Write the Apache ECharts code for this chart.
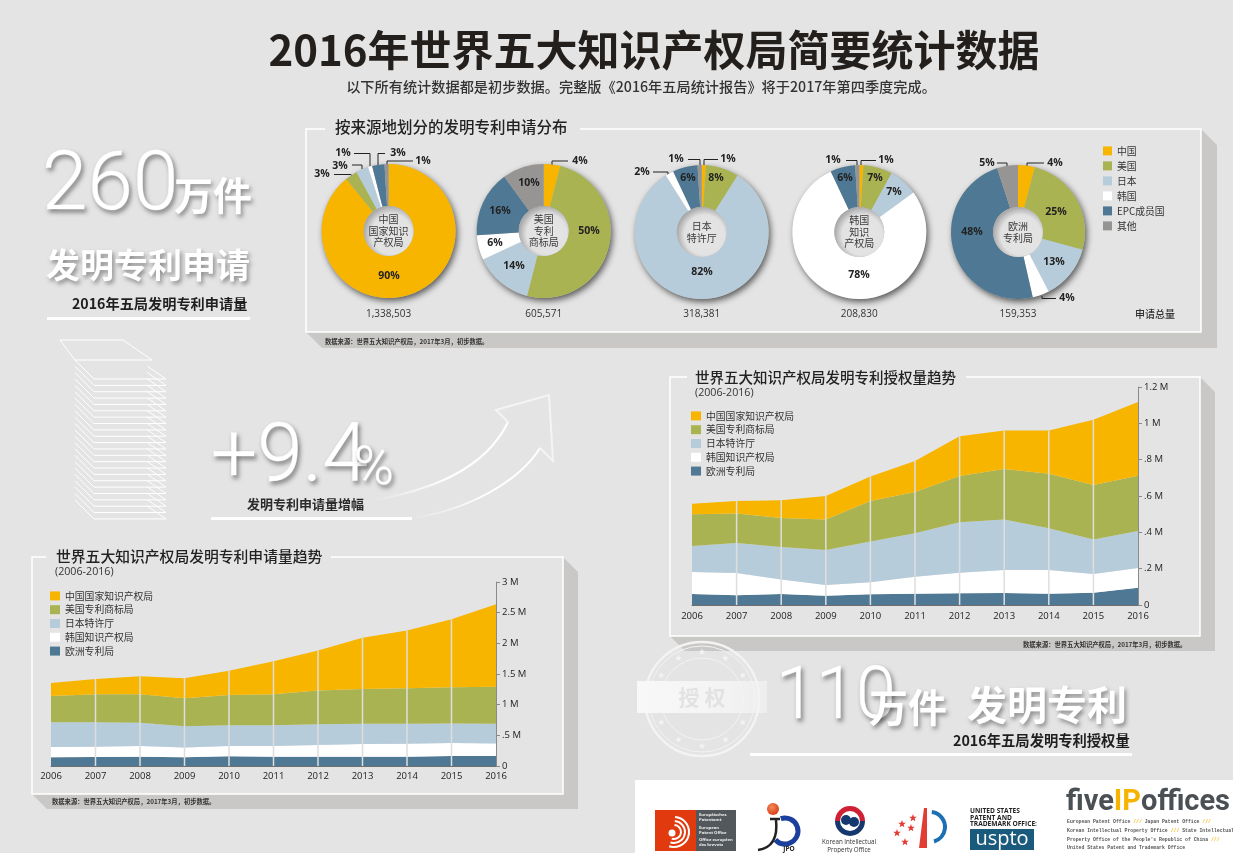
<!DOCTYPE html>
<html>
<head>
<meta charset="utf-8">
<title>2016年世界五大知识产权局简要统计数据</title>
<script src="https://cdn.jsdelivr.net/npm/echarts@6/dist/echarts.min.js"></script>
<style>
html, body { margin: 0; padding: 0; background: #e4e4e4; }
#main { width: 1233px; height: 853px; }
</style>
</head>
<body>
<div id="main"></div>
<script>
// ---- data ----
var years = ['2006', '2007', '2008', '2009', '2010', '2011', '2012', '2013', '2014', '2015', '2016'];
var offices = ['中国国家知识产权局', '美国专利商标局', '日本特许厅', '韩国知识产权局', '欧洲专利局'];
var sources = ['中国', '美国', '日本', '韩国', 'EPC成员国', '其他'];

// 发明专利授权量 (thousands)
var grantChina = [59, 70, 97, 130, 135, 171, 219, 211, 237, 359, 406];
var grantUS = [174, 162, 160, 167, 223, 227, 255, 279, 301, 301, 305];
var grantJapan = [143, 165, 178, 193, 225, 239, 277, 277, 229, 189, 203];
var grantKorea = [121, 123, 80, 59, 66, 94, 114, 127, 131, 103, 109];
var grantEurope = [61, 53, 61, 51, 59, 62, 64, 66, 62, 68, 95];
var grantTicks = ['0', '.2 M', '.4 M', '.6 M', '.8 M', '1 M', '1.2 M'];

// 发明专利申请量 (thousands)
var applyChina = [211, 249, 292, 325, 395, 536, 655, 834, 942, 1110, 1343];
var applyUS = [428, 455, 466, 455, 493, 504, 547, 568, 579, 590, 606];
var applyJapan = [406, 401, 379, 347, 341, 341, 341, 331, 325, 319, 320];
var applyKorea = [168, 168, 173, 162, 168, 173, 189, 205, 211, 212, 206];
var applyEurope = [141, 146, 152, 141, 157, 152, 152, 152, 152, 162, 162];
var applyTicks = ['0', '.5 M', '1 M', '1.5 M', '2 M', '2.5 M', '3 M'];

// share by origin, same order as sources
var shareCNIPA = [90, 3, 3, 1, 3, 1];
var shareUSPTO = [4, 50, 14, 6, 16, 10];
var shareJPO = [1, 8, 82, 2, 6, 1];
var shareKIPO = [1, 7, 7, 78, 6, 1];
var shareEPO = [4, 25, 13, 4, 48, 5];
var pieTotals = ['1,338,503', '605,571', '318,381', '208,830', '159,353'];
var pieNames = [['中国', '国家知识', '产权局'], ['美国', '专利', '商标局'], ['日本', '特许厅'], ['韩国', '知识', '产权局'], ['欧洲', '专利局']];

// ---- look ----
var colors = ['#f8b500', '#aab351', '#b7ccda', '#ffffff', '#4e7893', '#969594'];
var cjk = '"Noto Sans CJK SC"';
var latin = '"Open Sans", "Noto Sans CJK SC"';
var thin = 'Roboto, "Open Sans"';
var dark = '#2b2b2b';
var sourceNote = '数据来源：世界五大知识产权局，2017年3月，初步数据。';

var pieCenters = [[388.6, 231], [543.7, 231], [701.7, 232], [859.3, 232], [1018, 232]];
var pieRadius = 67;
var holeRadius = 25;

// where each percentage sits in the page, keyed by pie then slice; third item is the leader line
var labelSpots = {
    0: {
        0: [389, 276],
        1: [322, 174, [[334, 174.5], [351, 174.5], [353, 177]]],
        2: [340, 166, [[352, 165], [362, 165], [362, 169]]],
        3: [343, 153, [[354, 153.5], [370, 153.5], [370, 166]]],
        4: [398, 153, [[385, 153.5], [378, 153.5], [378, 165]]],
        5: [423, 161, [[413, 161], [387, 161], [387, 165]]]
    },
    1: {
        0: [580, 161, [[568, 161], [552, 161], [552, 165]]],
        1: [589, 231],
        2: [514, 266],
        3: [495, 243],
        4: [500, 211],
        5: [529, 183]
    },
    2: {
        0: [728, 159, [[718, 159.5], [704, 159.5], [704, 165]]],
        1: [716, 178],
        2: [702, 272],
        3: [642, 172, [[653, 172], [668, 172], [668, 175]]],
        4: [688, 178],
        5: [676, 159, [[688, 159.5], [700, 159.5], [700, 165]]]
    },
    3: {
        0: [886, 160, [[876, 160.5], [861, 160.5], [861, 165]]],
        1: [875, 178],
        2: [894, 192],
        3: [859, 275],
        4: [845, 178],
        5: [833, 160, [[846, 160.5], [857, 160.5], [857, 165]]]
    },
    4: {
        0: [1055, 163, [[1044, 163], [1027, 163], [1027, 166]]],
        1: [1056, 212],
        2: [1054, 262],
        3: [1067, 298, [[1056, 298.5], [1042, 298.5], [1042, 296]]],
        4: [972, 232],
        5: [987, 163, [[997, 163], [1007, 163], [1007, 166]]]
    }
};

function txt(text, x, y, size, opts) {
    opts = opts || {};
    return {
        type: 'text', silent: true, z: opts.z || 8,
        style: {
            text: text, x: x, y: y,
            fontFamily: opts.family || cjk,
            fontSize: size,
            fontWeight: opts.weight || 'normal',
            fill: opts.fill || dark,
            stroke: opts.stroke,
            lineWidth: opts.stroke ? 0.8 : undefined,
            align: opts.align || 'left',
            verticalAlign: 'middle',
            rich: opts.rich,
            textShadowColor: opts.shadow ? 'rgba(0,0,0,0.38)' : undefined,
            textShadowBlur: opts.shadow ? 4 : undefined,
            textShadowOffsetX: opts.shadow ? 2 : undefined,
            textShadowOffsetY: opts.shadow ? 3 : undefined
        }
    };
}
function rule(x, y, w, h, fill) {
    return { type: 'rect', silent: true, z: 1, shape: { x: x, y: y, width: w, height: h }, style: { fill: fill || '#fff' } };
}
function poly(points, fill, z) {
    return { type: 'polygon', silent: true, z: z || 1, shape: { points: points }, style: { fill: fill } };
}
function wire(points, stroke, width, z) {
    return { type: 'polyline', silent: true, z: z || 1, shape: { points: points }, style: { stroke: stroke || '#fff', lineWidth: width || 1, fill: 'none' } };
}
function dot(cx, cy, r, style, z) {
    return { type: 'circle', silent: true, z: z || 1, shape: { cx: cx, cy: cy, r: r }, style: style };
}
function star(cx, cy, r, fill) {
    var pts = [];
    for (var i = 0; i < 10; i++) {
        var a = -Math.PI / 2 + i * Math.PI / 5;
        var d = i % 2 ? r * 0.42 : r;
        pts.push([cx + d * Math.cos(a), cy + d * Math.sin(a)]);
    }
    return poly(pts, fill, 2);
}
// panel: raised shade plus white frame with a gap in the top edge for the title
function panel(l, t, r, b, gapL, gapR, depth) {
    return [
        poly([[l, b], [r, b], [r, t], [r + depth, t + depth], [r + depth, b + depth], [l + depth, b + depth]], '#c9c8c6', 1),
        wire([[gapL, t], [l, t], [l, b], [r, b], [r, t], [gapR, t]], '#fff', 1.5, 1)
    ];
}

// ---- page furniture ----
var g = [];
g.push(txt('2016年世界五大知识产权局简要统计数据', 654, 50, 42, { weight: 'bold', align: 'center', fill: '#231f1c' }));
g.push(txt('以下所有统计数据都是初步数据。完整版《2016年五局统计报告》将于2017年第四季度完成。', 641, 87, 14.2, { align: 'center', fill: '#333', weight: 500 }));

// left big numbers
g.push(txt('260', 42, 188, 82, { family: thin, weight: 300, fill: '#fff', stroke: '#fff', shadow: true }));
g.push(txt('万件', 174, 195, 39, { weight: 'bold', fill: '#fff', shadow: true }));
g.push(txt('发明专利申请', 46, 265, 34, { weight: 'bold', fill: '#fff', shadow: true }));
g.push(txt('2016年五局发明专利申请量', 72, 304, 14.2, { weight: 'bold', fill: '#1f1f1f' }));
g.push(rule(47, 317, 203, 3));

// paper stack
g.push(wire([[60, 340], [123, 340], [152, 360], [75, 360], [60, 340]], '#fff', 1));
for (var s = 0; s < 23; s++) {
    var sy = 360 + s * 6.36;
    g.push(wire([[75, sy], [94, sy + 19], [166, sy + 19], [147, sy + 6]], '#fff', 1));
}

// +9.4%
g.push(txt('+9.4', 211, 460, 82, { family: thin, weight: 300, fill: '#fff', stroke: '#fff', shadow: true }));
g.push(txt('%', 354, 470, 54, { family: thin, weight: 300, fill: '#fff', stroke: '#fff', shadow: true }));
g.push(txt('发明专利申请量增幅', 247, 504, 13, { weight: 'bold', fill: '#2b2b2b' }));
g.push(rule(211, 517, 201, 3));

// curved arrow
var fadeStroke = { type: 'linear', x: 0, y: 1, x2: 1, y2: 0, colorStops: [{ offset: 0, color: 'rgba(255,255,255,0)' }, { offset: 0.5, color: '#fff' }, { offset: 1, color: '#fff' }] };
g.push({ type: 'bezierCurve', silent: true, z: 1, shape: { x1: 375, y1: 500, cpx1: 430, cpy1: 490, cpx2: 485, cpy2: 470, x2: 508, y2: 422 }, style: { stroke: fadeStroke, lineWidth: 2, fill: 'none' } });
g.push({ type: 'bezierCurve', silent: true, z: 1, shape: { x1: 412, y1: 518, cpx1: 470, cpy1: 510, cpx2: 520, cpy2: 480, x2: 540, y2: 448 }, style: { stroke: fadeStroke, lineWidth: 2, fill: 'none' } });
g.push(wire([[508, 422], [496, 410], [549, 395], [553, 461], [540, 448]], '#f4f4f4', 2));

// panels
g = g.concat(panel(306, 129, 1201, 332, 325, 580, 16));
g = g.concat(panel(670, 377, 1200, 636, 687, 966, 15));
g = g.concat(panel(32, 557, 563, 794, 46, 331, 15));
g.push(txt('按来源地划分的发明专利申请分布', 335, 127, 15.5, { weight: 500, fill: '#222' }));
g.push(txt(sourceNote, 325, 342, 6.3, { weight: 'bold', fill: '#333' }));
g.push(txt('申请总量', 1155, 314, 10, { align: 'center', fill: '#333', weight: 500 }));
g.push(txt('世界五大知识产权局发明专利授权量趋势', 695, 377, 14.5, { weight: 500, fill: '#222' }));
g.push(txt('(2006-2016)', 695, 393, 10.7, { family: latin, fill: '#333' }));
g.push(txt(sourceNote, 1023, 645, 6.3, { weight: 'bold', fill: '#333' }));
g.push(txt('世界五大知识产权局发明专利申请量趋势', 56, 556, 14.8, { weight: 500, fill: '#222' }));
g.push(txt('(2006-2016)', 55, 572, 10.7, { family: latin, fill: '#333' }));
g.push(txt(sourceNote, 52, 802, 6.3, { weight: 'bold', fill: '#333' }));

// pie backing discs, holes and captions
pieCenters.forEach(function (c, i) {
    g.push(dot(c[0], c[1], pieRadius, { fill: '#bbb', shadowColor: 'rgba(0,0,0,0.6)', shadowBlur: 6, shadowOffsetX: 2, shadowOffsetY: 3 }, 1));
    g.push(dot(c[0], c[1], holeRadius, {
        fill: { type: 'radial', x: 0.56, y: 0.56, r: 0.56, colorStops: [{ offset: 0, color: '#e6e6e6' }, { offset: 0.72, color: '#e2e2e2' }, { offset: 1, color: '#a9a9a9' }] }
    }, 6));
    var lines = pieNames[i];
    lines.forEach(function (line, k) {
        g.push(txt(line, c[0], c[1] + (k - (lines.length - 1) / 2) * 11.7, 10, { align: 'center', fill: '#3a3a3a' }));
    });
    g.push(txt(pieTotals[i], c[0], 314, 10, { family: latin, align: 'center', fill: '#333' }));
});

// stamp
g.push(dot(702, 699, 57, { fill: 'none', stroke: '#f3f3f3', lineWidth: 2.5 }));
g.push(dot(702, 699, 53, { fill: 'none', stroke: '#f3f3f3', lineWidth: 1 }));
g.push(dot(702, 699, 41, { fill: 'none', stroke: '#f3f3f3', lineWidth: 1 }));
for (var a = 0; a < 12; a++) {
    if (a === 0 || a === 6) continue;
    var ang = a * Math.PI / 6;
    g.push(star(702 + 47 * Math.cos(ang), 699 + 47 * Math.sin(ang), 3.5, '#f3f3f3'));
}
g.push({
    type: 'rect', silent: true, z: 2, shape: { x: 637, y: 681, width: 130, height: 32 },
    style: { fill: { type: 'linear', x: 0, y: 0, x2: 1, y2: 0, colorStops: [{ offset: 0, color: '#f8f8f8' }, { offset: 0.6, color: '#f4f4f4' }, { offset: 1, color: 'rgba(244,244,244,0.6)' }] } }
});
g.push(txt('授 权', 702, 697, 21, { weight: 'bold', align: 'center', fill: '#e2e2e2' }));

// 110万件
g.push(txt('110', 776, 700, 72, { family: thin, weight: 300, fill: '#fff', stroke: '#fff', shadow: true }));
g.push(txt('万件', 869, 707, 39, { weight: 'bold', fill: '#fff', shadow: true }));
g.push(txt('发明专利', 967, 705, 40, { weight: 'bold', fill: '#fff', shadow: true }));
g.push(txt('2016年五局发明专利授权量', 953, 741, 14.3, { weight: 'bold', fill: '#1f1f1f' }));
g.push(rule(750, 753, 382, 3));

// logo strip
g.push(rule(635, 780, 598, 73));
g.push(rule(655, 810, 41, 41, '#e03a0e'));
g.push(rule(696, 810, 40, 41, '#53585c'));
[['Europäisches', 815], ['Patentamt', 820], ['European', 828], ['Patent Office', 833], ['Office européen', 840], ['des brevets', 845]].forEach(function (row) {
    g.push(txt(row[0], 699, row[1], 4.2, { family: latin, weight: 'bold', fill: '#eee', z: 3 }));
});
[15, 11, 7].forEach(function (r) {
    g.push({ type: 'arc', silent: true, z: 3, shape: { cx: 674, cy: 832, r: r, startAngle: -1.5, endAngle: 1.9 }, style: { stroke: '#fff', lineWidth: 2, fill: 'none' } });
});
g.push(dot(672, 833, 3.5, { fill: '#fff' }, 3));

g.push(dot(773, 809, 6, { fill: { type: 'radial', x: 0.4, y: 0.35, r: 0.7, colorStops: [{ offset: 0, color: '#f58a5a' }, { offset: 1, color: '#d43a12' }] } }, 3));
g.push({ type: 'arc', silent: true, z: 3, shape: { cx: 785, cy: 831, r: 13, startAngle: -1.9, endAngle: 2.4 }, style: { stroke: '#1a3f9c', lineWidth: 5, fill: 'none' } });
g.push(wire([[770, 819], [780, 819]], '#222', 2.5, 3));
g.push({ type: 'bezierCurve', silent: true, z: 3, shape: { x1: 776, y1: 820, cpx1: 778, cpy1: 838, cpx2: 772, cpy2: 848, x2: 758, y2: 850 }, style: { stroke: '#222', lineWidth: 2.5, fill: 'none' } });
g.push(txt('JPO', 789, 849, 6.5, { family: latin, weight: 'bold', fill: '#222', align: 'center', z: 3 }));

g.push({ type: 'sector', silent: true, z: 3, shape: { cx: 850, cy: 821, r: 15, r0: 0, startAngle: -Math.PI, endAngle: 0 }, style: { fill: '#cf2036' } });
g.push({ type: 'sector', silent: true, z: 3, shape: { cx: 850, cy: 821, r: 15, r0: 0, startAngle: 0, endAngle: Math.PI }, style: { fill: '#15396e' } });
g.push(dot(850, 821, 10, { fill: '#fff' }, 3));
g.push(dot(846, 820, 5, { fill: '#15396e' }, 3));
g.push(dot(854, 822, 5, { fill: '#15396e' }, 3));
g.push(txt('Korean Intellectual', 849, 842, 6.2, { family: latin, fill: '#333', align: 'center', z: 3 }));
g.push(txt('Property Office', 849, 850, 6.2, { family: latin, fill: '#333', align: 'center', z: 3 }));

g.push(poly([[919, 848], [924, 808], [927, 808], [927, 848]], '#e33c33', 3));
g.push({ type: 'arc', silent: true, z: 3, shape: { cx: 930, cy: 827, r: 15, startAngle: -1.45, endAngle: 1.3 }, style: { stroke: '#1b6fb5', lineWidth: 4, fill: 'none' } });
[[897, 833], [902, 824], [911, 828], [905, 842], [913, 818]].forEach(function (p) { g.push(star(p[0], p[1], 4, '#e33c33')); });

g.push(txt('UNITED STATES', 970, 811, 6.6, { family: latin, weight: 'bold', fill: '#222', z: 3 }));
g.push(txt('PATENT AND', 970, 818, 6.6, { family: latin, weight: 'bold', fill: '#222', z: 3 }));
g.push(txt('TRADEMARK OFFICE:', 970, 824.5, 6.6, { family: latin, weight: 'bold', fill: '#222', z: 3 }));
g.push(rule(970, 829, 64, 21, '#1a5a7d'));
g.push(txt('uspto', 1002, 839, 20, { family: latin, fill: '#fff', align: 'center', z: 3 }));

g.push(txt('{a|five}{b|IP}{a|offices}', 1066, 803, 29, {
    family: 'Roboto', weight: 'bold', z: 3,
    rich: { a: { fontFamily: 'Roboto', fontSize: 29, fontWeight: 'bold', fill: '#4b5055' }, b: { fontFamily: 'Roboto', fontSize: 29, fontWeight: 'bold', fill: '#f6b400' } }
}));
var small = { a: { fontFamily: '"Liberation Mono"', fontSize: 4.8, fontWeight: 'bold', fill: '#555' }, b: { fontFamily: '"Liberation Mono"', fontSize: 4.8, fontWeight: 'bold', fill: '#f6b400' } };
['{a|European Patent Office }{b|///}{a| Japan Patent Office }{b|///}',
    '{a|Korean Intellectual Property Office }{b|///}{a| State Intellectual}',
    '{a|Property Office of the People\'s Republic of China }{b|///}',
    '{a|United States Patent and Trademark Office}'].forEach(function (line, i) {
    g.push(txt(line, 1067, 822 + i * 8.7, 4.8, { family: '"Liberation Mono"', z: 3, rich: small }));
});

// ---- series builders ----
function pieSeries(shares, index) {
    var spots = labelSpots[index];
    return {
        type: 'pie',
        center: pieCenters[index],
        radius: [holeRadius, pieRadius],
        startAngle: 90,
        clockwise: true,
        silent: true,
        avoidLabelOverlap: false,
        label: {
            formatter: '{c}%',
            fontFamily: latin,
            fontSize: 10.5,
            fontWeight: 'bold',
            color: '#222'
        },
        labelLine: { lineStyle: { color: '#222', width: 1 } },
        labelLayout: function (params) {
            var spot = spots[params.dataIndex];
            var out = { x: spot[0], y: spot[1], align: 'center', verticalAlign: 'middle' };
            if (spot[2]) out.labelLinePoints = spot[2];
            return out;
        },
        data: shares.map(function (v, i) {
            var hasLeader = !!spots[i][2];
            return {
                name: sources[i],
                value: v,
                itemStyle: { color: colors[i] },
                label: { position: hasLeader ? 'outside' : 'inside' },
                labelLine: { show: hasLeader }
            };
        })
    };
}

function areaSeries(name, values, color, gridIndex, withShadow) {
    return {
        name: name,
        type: 'line',
        stack: 'total' + gridIndex,
        xAxisIndex: gridIndex,
        yAxisIndex: gridIndex,
        color: color,
        silent: true,
        symbol: 'none',
        lineStyle: { width: 0 },
        areaStyle: withShadow
            ? { color: color, opacity: 1, shadowColor: 'rgba(0,0,0,0.35)', shadowBlur: 5, shadowOffsetY: 3 }
            : { color: color, opacity: 1 },
        data: values
    };
}

// thin light rules from the baseline up to the stack top, inner years only
function dividerSeries(groups, gridIndex) {
    var tops = years.map(function (y, i) {
        if (i === 0 || i === years.length - 1) return null;
        return groups.reduce(function (sum, arr) { return sum + arr[i]; }, 0);
    });
    return {
        type: 'bar', xAxisIndex: gridIndex, yAxisIndex: gridIndex, silent: true, z: 3,
        barWidth: 1.5, itemStyle: { color: '#dedede' }, data: tops
    };
}

function xAxisFor(gridIndex, margin) {
    return {
        type: 'category', gridIndex: gridIndex, data: years, boundaryGap: false,
        axisLine: { show: true, lineStyle: { color: '#6f6f6f', width: 1 } },
        axisTick: { show: false },
        axisLabel: { interval: 0, margin: margin, fontFamily: latin, fontSize: 9.5, color: '#222' }
    };
}
function yAxisFor(gridIndex, max, step, ticks) {
    return {
        type: 'value', gridIndex: gridIndex, position: 'right', min: 0, max: max, interval: step,
        splitLine: { show: false },
        axisLine: { show: true, lineStyle: { color: '#8a8a8a', width: 1 } },
        axisTick: { show: true, length: 4, lineStyle: { color: '#8a8a8a' } },
        axisLabel: {
            margin: 6, fontFamily: latin, fontSize: 9.5, color: '#222',
            formatter: function (v) { return ticks[Math.round(v / step)]; }
        }
    };
}

var legendText = { fontFamily: cjk, fontSize: 9.8, color: '#333' };

var chart = echarts.init(document.getElementById('main'));
chart.setOption({
    animation: false,
    backgroundColor: '#e4e4e4',
    graphic: { elements: g },
    legend: [
        { left: 1103, top: 146, orient: 'vertical', icon: 'rect', itemWidth: 9, itemHeight: 9, itemGap: 5.2, selectedMode: false, padding: 0, textStyle: legendText, data: sources },
        { left: 691, top: 411, orient: 'vertical', icon: 'rect', itemWidth: 10, itemHeight: 9, itemGap: 4, selectedMode: false, padding: 0, textStyle: legendText, data: offices },
        { left: 50, top: 591, orient: 'vertical', icon: 'rect', itemWidth: 10, itemHeight: 9, itemGap: 4, selectedMode: false, padding: 0, textStyle: legendText, data: offices }
    ],
    grid: [
        { left: 692, top: 387, width: 446, height: 218 },
        { left: 51, top: 582, width: 445, height: 184 }
    ],
    xAxis: [xAxisFor(0, 7), xAxisFor(1, 6)],
    yAxis: [yAxisFor(0, 1200, 200, grantTicks), yAxisFor(1, 3000, 500, applyTicks)],
    series: [
        pieSeries(shareCNIPA, 0),
        pieSeries(shareUSPTO, 1),
        pieSeries(shareJPO, 2),
        pieSeries(shareKIPO, 3),
        pieSeries(shareEPO, 4),
        areaSeries(offices[4], grantEurope, colors[4], 0, true),
        areaSeries(offices[3], grantKorea, colors[3], 0),
        areaSeries(offices[2], grantJapan, colors[2], 0),
        areaSeries(offices[1], grantUS, colors[1], 0),
        areaSeries(offices[0], grantChina, colors[0], 0),
        dividerSeries([grantEurope, grantKorea, grantJapan, grantUS, grantChina], 0),
        areaSeries(offices[4], applyEurope, colors[4], 1, true),
        areaSeries(offices[3], applyKorea, colors[3], 1),
        areaSeries(offices[2], applyJapan, colors[2], 1),
        areaSeries(offices[1], applyUS, colors[1], 1),
        areaSeries(offices[0], applyChina, colors[0], 1),
        dividerSeries([applyEurope, applyKorea, applyJapan, applyUS, applyChina], 1)
    ]
});
</script>
</body>
</html>
